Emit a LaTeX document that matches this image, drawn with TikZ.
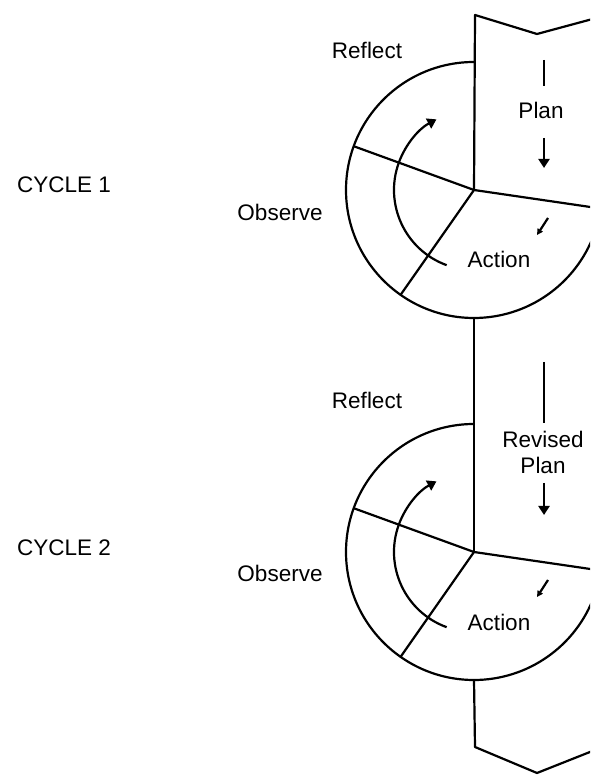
\documentclass[tikz,border=0pt]{standalone}
\usepackage{fontspec}
\setmainfont{Liberation Sans}
\usetikzlibrary{arrows.meta}
\begin{document}
\begin{tikzpicture}[x=1pt,y=1pt,
  ln/.style={line width=2.2pt, line join=round},
  lbl/.style={font=\fontsize{22.5}{26}\selectfont, inner sep=0pt, align=center},
  bigtip/.style={-{Triangle[length=9pt,width=11pt]}},
  smalltip/.style={-{Triangle[length=6pt,width=6pt]}},
]
\useasboundingbox (0,0) rectangle (590,775);
\clip (0,0) rectangle (590,775);

% centres of the two cycles
\coordinate (c1) at (474,585);
\coordinate (c2) at (474,223);

% one cycle: outer ring, three spokes, rotating arrow, action arrow
\foreach \c in {c1,c2}{
  \begin{scope}[shift={(\c)}]
    \coordinate (\c-top) at (0,128);
    \coordinate (\c-bot) at (0,-128);
    \coordinate (\c-ul) at (160:128);
    \coordinate (\c-ll) at (235:128);
    \coordinate (\c-r) at (130,-19);
    \draw[ln] (\c-top) arc[start angle=90, end angle=340, radius=128];
    \draw[ln] (\c) -- (\c-r);
    \draw[ln] (\c) -- (\c-ul);
    \draw[ln] (\c) -- (\c-ll);
    \coordinate (\c-s) at (250:80);
    \draw[ln, bigtip] (\c-s) arc[start angle=250, end angle=118, radius=80];
    \coordinate (\c-a0) at (74,-28);
    \coordinate (\c-a1) at (63,-45);
    \draw[ln, smalltip] (\c-a0) -- (\c-a1);
  \end{scope}
}

% spine with the top and bottom chevrons
\coordinate (t0) at (475,760);
\coordinate (t1) at (537,741);
\coordinate (t2) at (600,758);
\draw[ln] (t2) -- (t1) -- (t0) -- (c1);
\draw[ln] (c1-bot) -- (c2);
\coordinate (b0) at (475,28);
\coordinate (b1) at (537,2);
\coordinate (b2) at (600,27);
\draw[ln] (c2-bot) -- (b0) -- (b1) -- (b2);

% plan arrows
\coordinate (p1a) at (544,715);
\coordinate (p1b) at (544,689);
\coordinate (p1c) at (544,637);
\coordinate (p1d) at (544,607);
\draw[ln] (p1a) -- (p1b);
\draw[ln, bigtip] (p1c) -- (p1d);
\coordinate (p2a) at (544,413);
\coordinate (p2b) at (544,352);
\coordinate (p2c) at (544,292);
\coordinate (p2d) at (544,260);
\draw[ln] (p2a) -- (p2b);
\draw[ln, bigtip] (p2c) -- (p2d);

% labels
\node[lbl] (reflect1) at (367,725) {Reflect};
\node[lbl] (cycle1) at (64,590) {CYCLE 1};
\node[lbl] (observe1) at (280,563) {Observe};
\node[lbl] (action1) at (499,516) {Action};
\node[lbl] (plan1) at (541,665) {Plan};
\node[lbl] (reflect2) at (367,375) {Reflect};
\node[lbl] (cycle2) at (64,227) {CYCLE 2};
\node[lbl] (observe2) at (280,202) {Observe};
\node[lbl] (action2) at (499,153) {Action};
\node[lbl] (plan2) at (543,323) {Revised\\Plan};
\end{tikzpicture}
\end{document}
